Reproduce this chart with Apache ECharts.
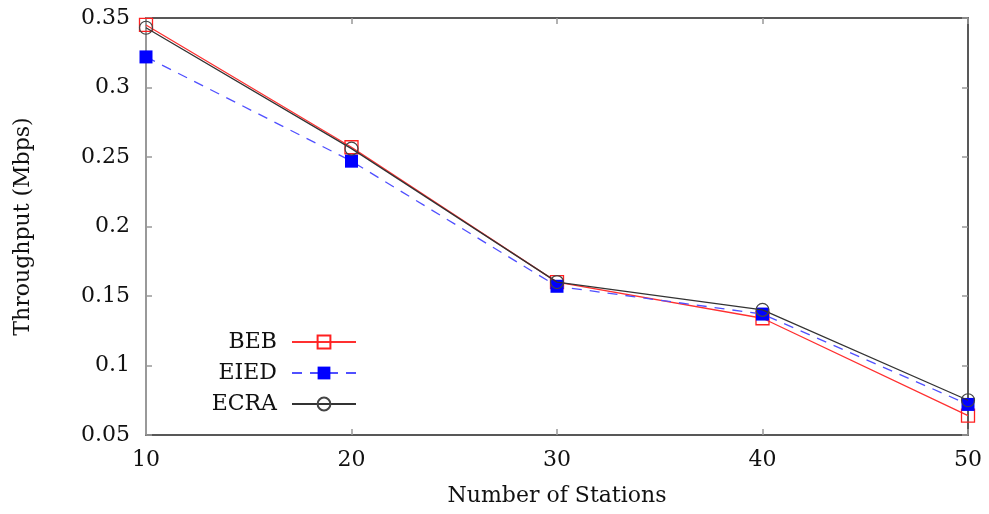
<!DOCTYPE html>
<html>
<head>
<meta charset="utf-8">
<script src="https://cdn.jsdelivr.net/npm/echarts@6/dist/echarts.min.js"></script>
<style>html,body{margin:0;padding:0;background:#fff;}#c{width:989px;height:514px;}</style>
</head>
<body>
<div id="c"></div>
<script>
var stations = [10, 20, 30, 40, 50];
var beb  = [0.345, 0.257, 0.160, 0.134, 0.064];
var eied = [0.322, 0.247, 0.157, 0.137, 0.072];
var ecra = [0.343, 0.256, 0.160, 0.140, 0.075];
var seriesNames = ['BEB', 'EIED', 'ECRA'];

var FONT = 'DejaVu Serif';
var FS = 22;
function pairs(ys){ return stations.map(function(x,i){ return [x, ys[i]]; }); }
var chart = echarts.init(document.getElementById('c'));
var tickStyle = {show:true, inside:true, length:6, lineStyle:{color:'#999', width:1.5}};
var legendBase = {orient:'vertical', itemWidth:64, itemHeight:16, itemGap:0, align:'right',
  textStyle:{fontFamily:FONT, fontSize:FS, color:'#111', padding:[0,10,0,0]}, selectedMode:false, right:627};
chart.setOption({
  animation:false,
  backgroundColor:'#fff',
  grid:{left:146, right:21, top:18, bottom:79},
  legend:[
    Object.assign({}, legendBase, {data:[seriesNames[0]], top:326}),
    Object.assign({}, legendBase, {data:[seriesNames[1]], top:357}),
    Object.assign({}, legendBase, {data:[seriesNames[2]], top:388})
  ],
  xAxis:[{
    type:'value', min:10, max:50, interval:10,
    name:'Number of Stations', nameLocation:'middle', nameGap:50,
    nameTextStyle:{fontFamily:FONT, fontSize:FS, color:'#111'},
    axisLine:{show:true, onZero:false, lineStyle:{color:'#222', width:1.5}},
    axisTick:tickStyle,
    axisLabel:{fontFamily:FONT, fontSize:FS, color:'#111', margin:14},
    splitLine:{show:false}
  },{
    type:'value', min:10, max:50, interval:10, position:'top',
    axisLine:{show:true, onZero:false, lineStyle:{color:'#222', width:1.5}},
    axisTick:tickStyle, axisLabel:{show:false}, splitLine:{show:false}
  }],
  yAxis:[{
    type:'value', min:0.05, max:0.35, interval:0.05,
    name:'Throughput (Mbps)', nameLocation:'middle', nameGap:112, nameRotate:90,
    nameTextStyle:{fontFamily:FONT, fontSize:FS, color:'#111'},
    axisLine:{show:true, onZero:false, lineStyle:{color:'#999', width:2}},
    axisTick:tickStyle,
    axisLabel:{fontFamily:FONT, fontSize:FS, color:'#111', margin:16,
      formatter:function(v){ return String(parseFloat(v.toFixed(2))); }},
    splitLine:{show:false}
  },{
    type:'value', min:0.05, max:0.35, interval:0.05, position:'right',
    axisLine:{show:true, onZero:false, lineStyle:{color:'#222', width:1.5}},
    axisTick:tickStyle, axisLabel:{show:false}, splitLine:{show:false}
  }],
  series:[
    {name:seriesNames[0], type:'line', data:pairs(beb), symbol:'rect', symbolSize:13,
     lineStyle:{color:'#ff3030', width:1.3},
     itemStyle:{color:'rgba(0,0,0,0)', borderColor:'#ff2020', borderWidth:1.3}, z:2},
    {name:seriesNames[1], type:'line', data:pairs(eied), symbol:'rect', symbolSize:13,
     lineStyle:{color:'#5050ff', width:1.3, type:[10,8]},
     itemStyle:{color:'#0000ff', borderColor:'#0000ff', borderWidth:0}, z:3},
    {name:seriesNames[2], type:'line', data:pairs(ecra), symbol:'circle', symbolSize:13,
     lineStyle:{color:'#333', width:1.3},
     itemStyle:{color:'rgba(0,0,0,0)', borderColor:'#444', borderWidth:1.2}, z:4}
  ]
});
</script>
</body>
</html>
